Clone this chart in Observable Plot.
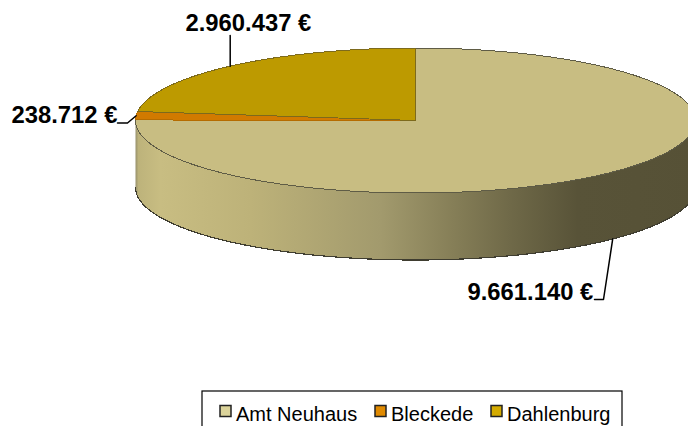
<!DOCTYPE html>
<html>
<head>
<meta charset="utf-8">
<script src="https://cdn.jsdelivr.net/npm/d3@7"></script>
<script src="https://cdn.jsdelivr.net/npm/@observablehq/plot@0.6"></script>
<style>html,body{margin:0;padding:0;background:#fff}svg{display:block}</style>
</head>
<body>
<div id="chart"></div>
<script>
const categories = ["Amt Neuhaus", "Bleckede", "Dahlenburg"];
const values = [9661140, 238712, 2960437];

// Styling and layout, kept apart from the data
const topColors = ["#c8bd82", "#d17a00", "#bd9a00"];
const edgeColors = ["#5f5c46", "#b56c00", "#7d6a1c"];
const legendColors = ["#dbd39a", "#e08a00", "#d4ab00"];
const cx = 415, cy = 120, rx = 280, ry = 72.5, depth = 67;
const font = "'Liberation Sans', Arial, sans-serif";

const ell = (a, dy = 0) => ({x: cx + rx * Math.sin(a), y: cy - ry * Math.cos(a) + dy});
const arcPts = (a0, a1, dy = 0) => {
  const n = Math.max(2, Math.ceil(Math.abs(a1 - a0) / 0.01));
  return d3.range(n + 1).map((i) => ell(a0 + (a1 - a0) * i / n, dy));
};

const arcs = d3.pie().sort(null)(values);
const mid = arcs.map((d) => (d.startAngle + d.endAngle) / 2);
const fmt = d3.formatLocale({decimal: ",", thousands: ".", grouping: [3], currency: ["", ""]}).format(",d");
const labels = values.map((v) => fmt(v) + " €");

const wallStops = [[135, "#97916c"], [138, "#bdb37b"], [160, "#c8bd82"], [250, "#bdb279"], [380, "#a29a6d"], [454, "#857e57"], [510, "#6f6948"], [577, "#585338"], [695, "#565136"]];
const gradient = () => {
  const defs = d3.create("svg:defs");
  const g = defs.append("linearGradient").attr("id", "wall").attr("gradientUnits", "userSpaceOnUse")
    .attr("x1", 135).attr("x2", 695).attr("y1", 0).attr("y2", 0);
  wallStops.forEach(([x, c]) => g.append("stop").attr("offset", (x - 135) / 560).attr("stop-color", c));
  return defs.node();
};

// The wall: front half of the rim, dropped by the depth of the disc
const wall = [...arcPts(Math.PI / 2, 1.5 * Math.PI), ...arcPts(1.5 * Math.PI, Math.PI / 2, depth)];
const wallBottom = arcPts(Math.PI / 2, 1.5 * Math.PI, depth);

const slices = arcs.map((d) => [{x: cx, y: cy}, ...arcPts(d.startAngle, d.endAngle), {x: cx, y: cy}]);

// Leaders run from the middle of each slice's rim to its label
const leaders = [
  [ell(mid[0], depth), {x: 603, y: 299}, {x: 594, y: 299}],
  [ell(mid[1]), {x: 127, y: 122.5}, {x: 117, y: 122.5}],
  [ell(mid[2]), {x: ell(mid[2]).x, y: 35}]
];

const labelPos = [{x: 467, y: 299}, {x: 11, y: 122.7}, {x: 185, y: 30}];

const legendX = [220, 375, 491];
const legendRows = categories.map((name, i) => ({name, color: legendColors[i], x1: legendX[i], x2: legendX[i] + 11, y1: 405.5, y2: 416.5, tx: legendX[i] + 15.5, ty: 420}));

const plot = Plot.plot({
  width: 688, height: 426,
  margin: 0,
  x: {type: "identity", axis: null},
  y: {type: "identity", axis: null},
  style: {background: "#fff", fontFamily: font},
  marks: [
    gradient,
    Plot.line(wall, {x: "x", y: "y", fill: "url(#wall)", stroke: "none"}),
    Plot.line(wallBottom, {x: "x", y: "y", stroke: "#3f3d30", strokeWidth: 1.2, shapeRendering: "crispEdges"}),
    ...slices.map((pts, i) => Plot.line(pts, {x: "x", y: "y", fill: topColors[i], stroke: edgeColors[i], strokeWidth: 1, shapeRendering: "crispEdges"})),
    ...leaders.map((pts) => Plot.line(pts, {x: "x", y: "y", stroke: "#000", strokeWidth: 1.5})),
    Plot.text(labels.map((t, i) => ({t, ...labelPos[i]})), {x: "x", y: "y", text: "t", textAnchor: "start", lineAnchor: "bottom", fontSize: 23.8, fontWeight: "bold", fill: "#000"}),
    Plot.rect([{x1: 202, x2: 622, y1: 391, y2: 440}], {x1: "x1", x2: "x2", y1: "y1", y2: "y2", fill: "none", stroke: "#000", strokeWidth: 1.2}),
    Plot.rect(legendRows, {x1: "x1", x2: "x2", y1: "y1", y2: "y2", fill: "color", stroke: "#222", strokeWidth: 1.5}),
    Plot.text(legendRows, {x: "tx", y: "ty", text: "name", textAnchor: "start", lineAnchor: "bottom", fontSize: 20, fill: "#000"})
  ]
});
document.getElementById("chart").append(plot);
</script>
</body>
</html>
